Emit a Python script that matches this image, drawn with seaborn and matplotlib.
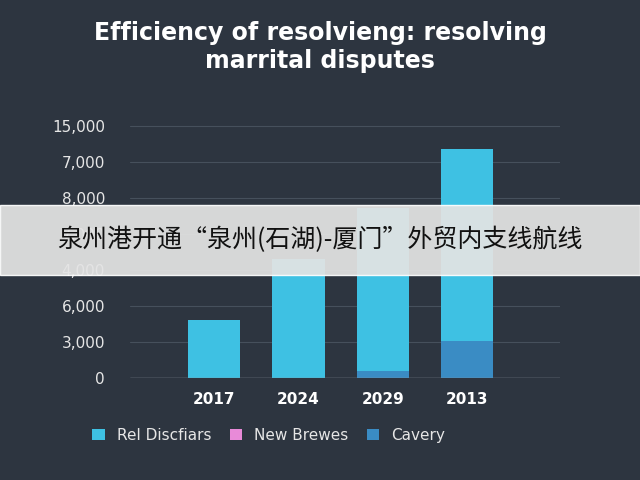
import matplotlib
matplotlib.use('Agg')
import matplotlib.pyplot as plt
import seaborn as sns
import pandas as pd

years = ["2017", "2024", "2029", "2013"]
rel_discfiars = [1.62, 3.3, 4.53, 5.32]
cavery = [0.0, 0.0, 0.2, 1.03]
tick_labels = ["0", "3,000", "6,000", "4,000", "7,000", "8,000", "7,000", "15,000"]

bg = "#2d3540"
sns.set_theme(style="dark")
plt.rcParams['font.family'] = ['DejaVu Sans', 'Noto Sans CJK SC']

fig = plt.figure(figsize=(6.4, 4.8), dpi=100, facecolor=bg)
ax = fig.add_axes([0.203, 0.2125, 0.672, 0.54], facecolor=bg)

df = pd.DataFrame({"year": years, "rel": rel_discfiars, "cav": cavery})
df["total"] = df["rel"] + df["cav"]
sns.barplot(data=df, x="year", y="total", color="#3ec1e3", width=0.62, ax=ax,
            saturation=1, label="Rel Discfiars", linewidth=0)
sns.barplot(data=df, x="year", y="cav", color="#3a8cc4", width=0.62, ax=ax,
            saturation=1, label="Cavery", linewidth=0)
ax.bar([0], [0], color="#e88ad8", label="New Brewes", linewidth=0)
if ax.get_legend() is not None:
    ax.get_legend().remove()

ax.set_xlim(-1, 4.1)
ax.set_ylim(0, 7.2)
ax.set_yticks(range(len(tick_labels)))
ax.set_yticklabels(tick_labels, color="#e6e6e6", fontsize=11)
ax.tick_params(axis='x', colors="white", labelsize=11, length=0, pad=10)
ax.tick_params(axis='y', length=0, pad=18)
for t in ax.get_xticklabels():
    t.set_fontweight("bold")
ax.set_xlabel("")
ax.set_ylabel("")
ax.grid(axis='y', color="#46505c", linewidth=0.8)
ax.set_axisbelow(True)
for s in ax.spines.values():
    s.set_visible(False)
ax.axhline(0, color="#8a949e", linewidth=1)

h, l = ax.get_legend_handles_labels()
order = [l.index("Rel Discfiars"), l.index("New Brewes"), l.index("Cavery")]
leg = fig.legend([h[i] for i in order], [l[i] for i in order], loc="center",
                 bbox_to_anchor=(0.42, 0.093), ncol=3, frameon=False,
                 fontsize=11, handlelength=0.8, handleheight=0.8, columnspacing=1.2)
for t in leg.get_texts():
    t.set_color("#e6e6e6")

fig.text(0.5, 0.902, "Efficiency of resolvieng: resolving\nmarrital disputes",
         ha="center", va="center", color="white", fontsize=17, fontweight="bold",
         linespacing=1.25)

fig.patches.append(plt.Rectangle((0, 0.427), 1, 0.146, transform=fig.transFigure,
                                 facecolor="#e4e4e4", alpha=0.93, zorder=10))
fig.text(0.5, 0.5, "泉州港开通“泉州(石湖)-厦门”外贸内支线航线", ha="center", va="center",
         fontsize=18, color="#111111", family=['Noto Sans CJK SC', 'DejaVu Sans'], zorder=11)

fig.savefig("out.png", dpi=100, facecolor=bg)
